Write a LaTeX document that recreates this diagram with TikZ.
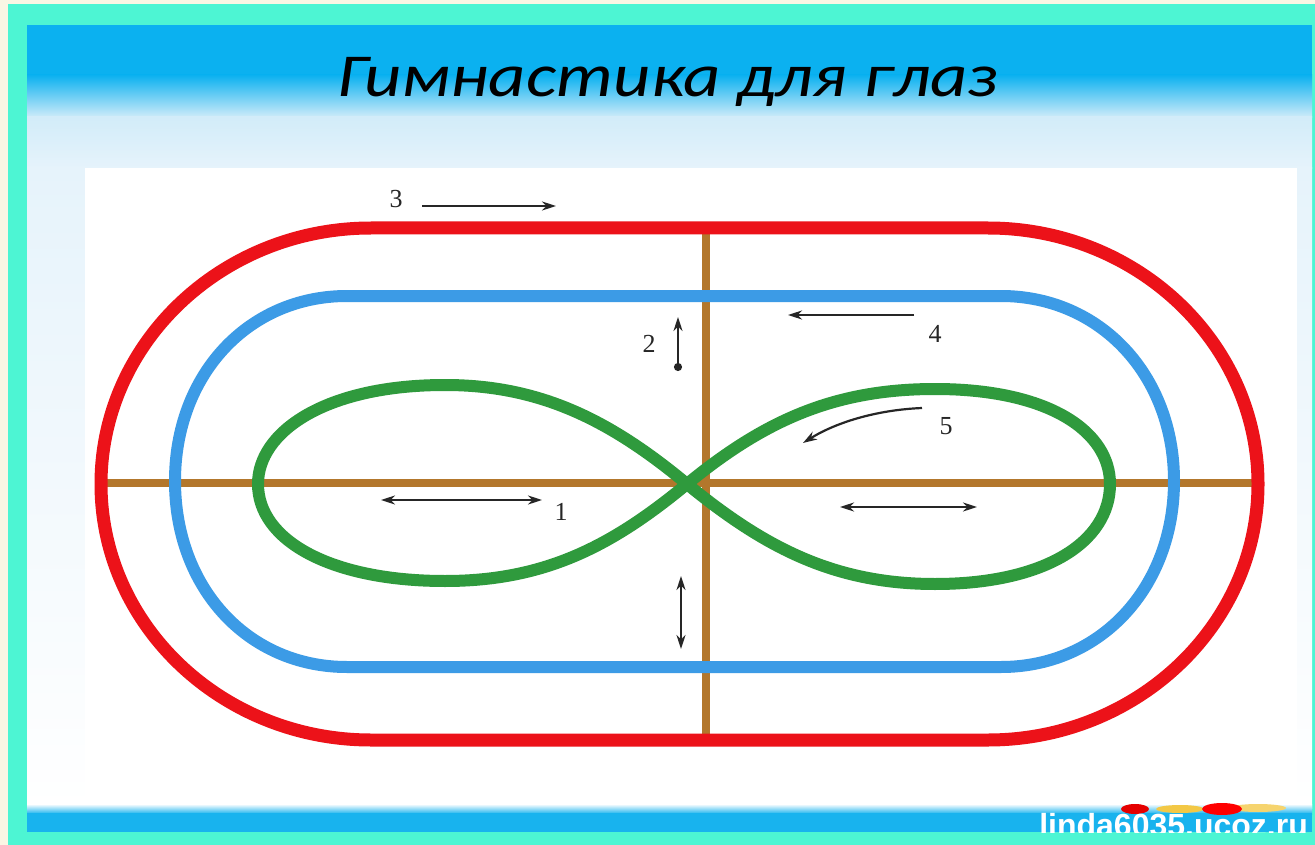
\documentclass[tikz,border=0pt]{standalone}
\usepackage{fontspec}
\setmainfont{Liberation Serif}
\newfontfamily\titlefont{Carlito}
\newfontfamily\wmfont{Liberation Sans}
\usetikzlibrary{arrows.meta}
\definecolor{cream}{HTML}{FAF6E4}
\definecolor{turq}{HTML}{4DF5D3}
\definecolor{hdrblue}{HTML}{0BB1F0}
\definecolor{hdrpale}{HTML}{D2ECF9}
\definecolor{slidebg}{HTML}{E6F3FB}
\definecolor{stripblue}{HTML}{18B3EE}
\definecolor{trackred}{HTML}{EC1219}
\definecolor{trackblue}{HTML}{3C9BE6}
\definecolor{trackgreen}{HTML}{2F9A3D}
\definecolor{axisbrown}{HTML}{B3772C}
\definecolor{ink}{HTML}{262626}
\definecolor{decoyellow}{HTML}{F2C230}
\tikzset{
  track/.style={line width=13pt, line join=round},
  axisline/.style={line width=8pt, draw=axisbrown},
  hint/.style={draw=ink, line width=2.2pt, -{Stealth[length=14pt,width=9pt]}},
  hintboth/.style={draw=ink, line width=2.2pt, {Stealth[length=14pt,width=9pt]}-{Stealth[length=14pt,width=9pt]}},
  hintdot/.style={draw=ink, line width=2.2pt, {Circle[length=8pt]}-{Stealth[length=14pt,width=9pt]}},
  numlabel/.style={text=ink, font=\fontsize{26}{26}\selectfont, inner sep=0pt}
}
\begin{document}
\begin{tikzpicture}[x=1pt,y=-1pt]
\useasboundingbox (0,0) rectangle (1315,845);
% background and frame
\fill[cream] (0,0) rectangle (1315,845);
\fill[turq] (8,4) rectangle (1315,845);
% header
\fill[hdrblue] (27,25) rectangle (1312,76);
\shade[top color=hdrblue, bottom color=hdrpale] (27,75) rectangle (1312,118);
\shade[top color=hdrpale, bottom color=slidebg] (27,117) rectangle (1312,169);
\shade[top color=slidebg, bottom color=white] (27,168) rectangle (1312,808);
% white panel
\fill[white] (85,168) rectangle (1297,806);
% bottom strip
\shade[top color=white, bottom color=stripblue] (27,804) rectangle (1312,814);
\fill[stripblue] (27,813) rectangle (1312,832);
% title
\node[font=\titlefont\itshape\fontsize{61}{61}\selectfont, text=black, anchor=base, inner sep=0pt, xscale=1.19, transform shape] (title) at (668,97) {Гимнастика для глаз};
% axes
\coordinate (hl) at (103,483);
\coordinate (hr) at (1255,483);
\coordinate (vt) at (706,230);
\coordinate (vb) at (706,740);
\draw[axisline] (hl) -- (hr);
\draw[axisline] (vt) -- (vb);
% red track
\draw[track, draw=trackred] (371,228) -- (988,228) .. controls (1137,228) and (1258,343) .. (1258,484) .. controls (1258,625) and (1137,740) .. (988,740) -- (371,740) .. controls (222,740) and (101,625) .. (101,484) .. controls (101,343) and (222,228) .. (371,228) -- cycle;
% blue track
\draw[track, draw=trackblue, line width=12pt] (347,296) -- (1001,296) .. controls (1100,296) and (1174,375) .. (1174,481) .. controls (1174,588) and (1100,667) .. (1001,667) -- (347,667) .. controls (248,667) and (175,588) .. (175,481) .. controls (175,375) and (248,296) .. (347,296) -- cycle;
% green figure eight
\draw[track, draw=trackgreen, line width=12pt] (687,484) .. controls (610,420) and (540,385) .. (445,385) .. controls (325,385) and (258,432) .. (258,484) .. controls (258,540) and (330,581) .. (445,581) .. controls (545,581) and (612,546) .. (687,484) .. controls (765,420) and (835,389) .. (935,389) .. controls (1050,389) and (1110,432) .. (1110,484) .. controls (1110,542) and (1045,584) .. (935,584) .. controls (835,584) and (765,548) .. (687,484) -- cycle;
% hint arrows
\coordinate (a3s) at (422,206); \coordinate (a3e) at (556,206);
\coordinate (a4s) at (914,315); \coordinate (a4e) at (788,315);
\coordinate (a2s) at (678,371); \coordinate (a2e) at (678,317);
\coordinate (a5s) at (922,408); \coordinate (a5e) at (803,443);
\coordinate (a1s) at (381,500); \coordinate (a1e) at (542,500);
\coordinate (a6s) at (840,507); \coordinate (a6e) at (977,507);
\coordinate (a7s) at (681,576); \coordinate (a7e) at (681,649);
\draw[hint] (a3s) -- (a3e);
\draw[hint] (a4s) -- (a4e);
\draw[hintdot] (a2s) -- (a2e);
\draw[hint] (a5s) .. controls (875,410) and (835,423) .. (a5e);
\draw[hintboth] (a1s) -- (a1e);
\draw[hintboth] (a6s) -- (a6e);
\draw[hintboth] (a7s) -- (a7e);
\node[numlabel] (n3) at (396,199) {3};
\node[numlabel] (n4) at (935,334) {4};
\node[numlabel] (n2) at (649,344) {2};
\node[numlabel] (n5) at (946,426) {5};
\node[numlabel] (n1) at (561,512) {1};
% watermark decoration
\fill[decoyellow!70] (1258,808) ellipse [x radius=28, y radius=4];
\fill[decoyellow!90] (1180,809) ellipse [x radius=24, y radius=4];
\fill[red!90!black] (1135,809) ellipse [x radius=14, y radius=5];
\fill[red] (1222,809) ellipse [x radius=20, y radius=6];
% watermark
\begin{scope}
\clip (27,25) rectangle (1312,832);
\node[font=\wmfont\bfseries\fontsize{32}{32}\selectfont, text=white, anchor=base east, inner sep=0pt] (wm) at (1308,836) {linda6035.ucoz.ru};
\end{scope}
\end{tikzpicture}
\end{document}
